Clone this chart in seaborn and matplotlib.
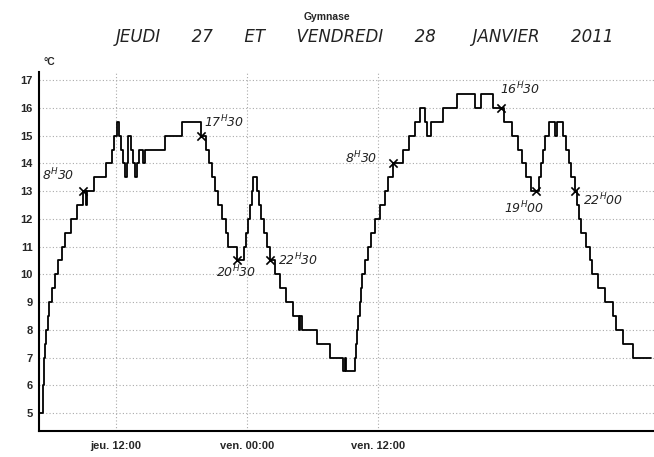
import matplotlib
matplotlib.use("Agg")
import matplotlib.pyplot as plt
import seaborn as sns
import pandas as pd
import numpy as np
from matplotlib.ticker import MultipleLocator

# Time in hours since Thursday 00:00, temperature in °C (step changes)
hours = [5.00, 5.34, 5.43, 5.54, 5.63, 5.77, 5.91, 6.14, 6.46, 6.73, 7.10, 7.37, 7.88,
         8.47, 8.97, 9.25, 9.39, 9.98, 11.08, 11.60, 11.81, 12.12, 12.27, 12.45, 12.64,
         12.82, 13.00, 13.12, 13.37, 13.58, 13.74, 13.97, 14.13, 14.50, 14.65, 16.48,
         18.01, 19.84, 20.24, 20.54, 20.76, 21.06, 21.36, 21.68, 22.07, 22.28, 23.05,
         23.76, 23.90, 24.08, 24.27, 24.45, 24.59, 24.86, 24.95, 25.14, 25.32, 25.55,
         25.80, 26.14, 26.56, 27.01, 27.56, 28.23, 28.78, 28.91, 29.09, 30.38, 31.66,
         32.76, 32.97, 33.12, 33.93, 34.02, 34.11, 34.22, 34.34, 34.43, 34.52, 34.80,
         35.10, 35.41, 35.71, 36.17, 36.63, 36.93, 37.39, 38.31, 38.83, 39.38, 39.84,
         40.29, 40.48, 40.91, 41.97, 43.25, 44.87, 45.49, 46.55, 47.53, 48.32, 48.84,
         49.24, 49.61, 50.06, 50.73, 50.98, 51.13, 51.28, 51.65, 52.20, 52.43, 52.96,
         53.27, 53.51, 53.73, 54.03, 54.21, 54.42, 54.64, 55.04, 55.40, 55.65, 56.16,
         56.78, 57.54, 57.85, 58.45, 59.37, 60.99]
temps = [5.0, 6.0, 7.0, 7.5, 8.0, 8.5, 9.0, 9.5, 10.0, 10.5, 11.0, 11.5, 12.0,
         12.5, 13.0, 12.5, 13.0, 13.5, 14.0, 14.5, 15.0, 15.5, 15.0, 14.5, 14.0,
         13.5, 14.0, 15.0, 14.5, 14.0, 13.5, 14.0, 14.5, 14.0, 14.5, 15.0,
         15.5, 15.0, 14.5, 14.0, 13.5, 13.0, 12.5, 12.0, 11.5, 11.0, 10.5,
         11.0, 11.5, 12.0, 12.5, 13.0, 13.5, 13.5, 13.0, 12.5, 12.0, 11.5,
         11.0, 10.5, 10.0, 9.5, 9.0, 8.5, 8.0, 8.5, 8.0, 7.5, 7.0,
         6.5, 7.0, 6.5, 7.0, 7.5, 8.0, 8.5, 9.0, 9.5, 10.0, 10.5,
         11.0, 11.5, 12.0, 12.5, 13.0, 13.5, 14.0, 14.5, 15.0, 15.5, 16.0,
         15.5, 15.0, 15.5, 16.0, 16.5, 16.0, 16.5, 16.0, 15.5, 15.0, 14.5,
         14.0, 13.5, 13.0, 13.5, 14.0, 14.5, 15.0, 15.5, 15.0, 15.5, 15.0,
         14.5, 14.0, 13.5, 13.0, 12.5, 12.0, 11.5, 11.0, 10.5, 10.0, 9.5,
         9.0, 8.5, 8.0, 7.5, 7.0, 7.0]

tick_hours = [12, 24, 36]
tick_labels = ["jeu. 12:00", "ven. 00:00", "ven. 12:00"]

# handwritten annotations: (hour, temp) of cross, label
mark_hours = [8.97, 19.84, 23.05, 26.14, 37.39, 47.30, 50.50, 54.03]
mark_temps = [13.0, 15.0, 10.5, 10.5, 14.0, 16.0, 13.0, 13.0]
mark_labels = ["8$^{H}$30", "17$^{H}$30", "20$^{H}$30", "22$^{H}$30",
               "8$^{H}$30", "16$^{H}$30", "19$^{H}$00", "22$^{H}$00"]
label_hours = [6.7, 21.9, 23.0, 28.7, 34.5, 49.0, 49.4, 56.6]
label_temps = [13.6, 15.5, 10.1, 10.5, 14.2, 16.7, 12.4, 12.7]

title = "Gymnase"
subtitle = "JEUDI      27      ET      VENDREDI      28       JANVIER      2011"

sns.set_style("white")
plt.rcParams['font.family'] = ['Liberation Sans', 'DejaVu Sans']

fig = plt.figure(figsize=(6.54, 4.57), dpi=100)
ax = fig.add_axes([0.0596, 0.0569, 0.9404, 0.7856])

df = pd.DataFrame({"h": hours, "t": temps})
sns.lineplot(data=df, x="h", y="t", ax=ax, estimator=None, sort=False,
             drawstyle="steps-post", color="black", linewidth=1.3)

ax.set_xlim(4.95, 61.3)
ax.set_ylim(4.35, 17.3)
ax.set_xlabel("")
ax.set_ylabel("")

ax.set_yticks(range(5, 18))
ax.yaxis.set_minor_locator(MultipleLocator(0.5))
ax.set_xticks(tick_hours)
ax.set_xticklabels(tick_labels)
ax.tick_params(axis="both", which="major", labelsize=8, length=3,
               direction="inout", width=1.2, pad=6)
ax.tick_params(axis="y", which="major", pad=3)
ax.tick_params(axis="y", which="minor", length=3, direction="inout", width=1)
for lab in ax.get_xticklabels() + ax.get_yticklabels():
    lab.set_fontweight("bold")

ax.grid(True, axis="both", which="major", linestyle=(0, (1, 2)),
        color="#aaaaaa", linewidth=0.8)
for s in ["top", "right"]:
    ax.spines[s].set_visible(False)
ax.spines["left"].set_linewidth(1.5)
ax.spines["bottom"].set_linewidth(1.5)
ax.spines["left"].set_color("black")
ax.spines["bottom"].set_color("black")

ax.scatter(mark_hours, mark_temps, marker="x", s=35, color="black",
           linewidths=1.2, zorder=5)
for lh, lt, lab in zip(label_hours, label_temps, mark_labels):
    ax.text(lh, lt, lab, fontsize=9, style="italic", ha="center", va="center",
            family=["DejaVu Sans"], color="#222222")

fig.text(0.5, 0.962, title, ha="center", va="center", fontsize=7.5,
         fontweight="bold")
fig.text(0.558, 0.918, subtitle, ha="center", va="center", fontsize=12,
         style="italic", family=["DejaVu Sans"], color="#222222")
fig.text(0.066, 0.865, "°C", ha="left", va="center", fontsize=7.5,
         fontweight="bold")

fig.savefig("out.png", dpi=100)
